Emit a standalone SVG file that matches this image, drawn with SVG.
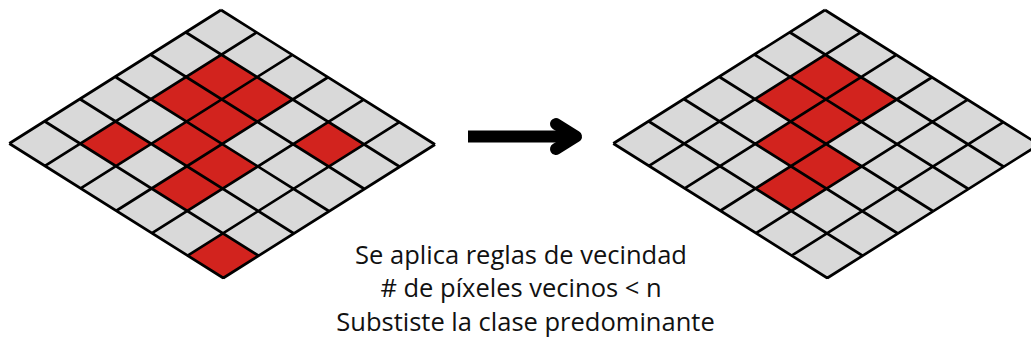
<svg xmlns="http://www.w3.org/2000/svg" width="1031" height="345" viewBox="0 0 1031 345">
<style>
.bg{fill:#d9d9d9;}
.red{fill:#d2231e;}
.ln{fill:none;stroke:#000;stroke-width:2.7;vector-effect:non-scaling-stroke;stroke-linejoin:miter;}
.txt{font-family:"Open Sans","Noto Sans",sans-serif;font-size:25.5px;fill:#111;text-anchor:middle;}
</style>
<g id="grid-before" transform="matrix(35.667 22.417 -35.283 22.25 221 10)">
<rect class="bg" x="0" y="0" width="6" height="6"/>
<rect class="red" x="1" y="1" width="1" height="1"/>
<rect class="red" x="1" y="2" width="1" height="1"/>
<rect class="red" x="2" y="1" width="1" height="1"/>
<rect class="red" x="2" y="2" width="1" height="1"/>
<rect class="red" x="1" y="4" width="1" height="1"/>
<rect class="red" x="2" y="3" width="1" height="1"/>
<rect class="red" x="4" y="1" width="1" height="1"/>
<rect class="red" x="3" y="3" width="1" height="1"/>
<rect class="red" x="3" y="4" width="1" height="1"/>
<rect class="red" x="5" y="5" width="1" height="1"/>
<path class="ln" d="M0 0H6M0 1H6M0 2H6M0 3H6M0 4H6M0 5H6M0 6H6M0 0V6M1 0V6M2 0V6M3 0V6M4 0V6M5 0V6M6 0V6"/>
</g>
<g id="grid-after" transform="matrix(35.667 22.417 -35.283 22.25 825 10)">
<rect class="bg" x="0" y="0" width="6" height="6"/>
<rect class="red" x="1" y="1" width="1" height="1"/>
<rect class="red" x="1" y="2" width="1" height="1"/>
<rect class="red" x="2" y="1" width="1" height="1"/>
<rect class="red" x="2" y="2" width="1" height="1"/>
<rect class="red" x="2" y="3" width="1" height="1"/>
<rect class="red" x="3" y="3" width="1" height="1"/>
<rect class="red" x="3" y="4" width="1" height="1"/>
<path class="ln" d="M0 0H6M0 1H6M0 2H6M0 3H6M0 4H6M0 5H6M0 6H6M0 0V6M1 0V6M2 0V6M3 0V6M4 0V6M5 0V6M6 0V6"/>
</g>
<g id="connectors">
<path d="M468 136.5H572" fill="none" stroke="#000" stroke-width="12"/>
<path d="M556 124L576 136.5L556 149" fill="none" stroke="#000" stroke-width="12" stroke-linecap="round" stroke-linejoin="round"/>
</g>
<g id="caption">
<text class="txt" x="521" y="264">Se aplica reglas de vecindad</text>
<text class="txt" x="521" y="297"># de píxeles vecinos &lt; n</text>
<text class="txt" x="525.5" y="331">Substiste la clase predominante</text>
</g>
</svg>
